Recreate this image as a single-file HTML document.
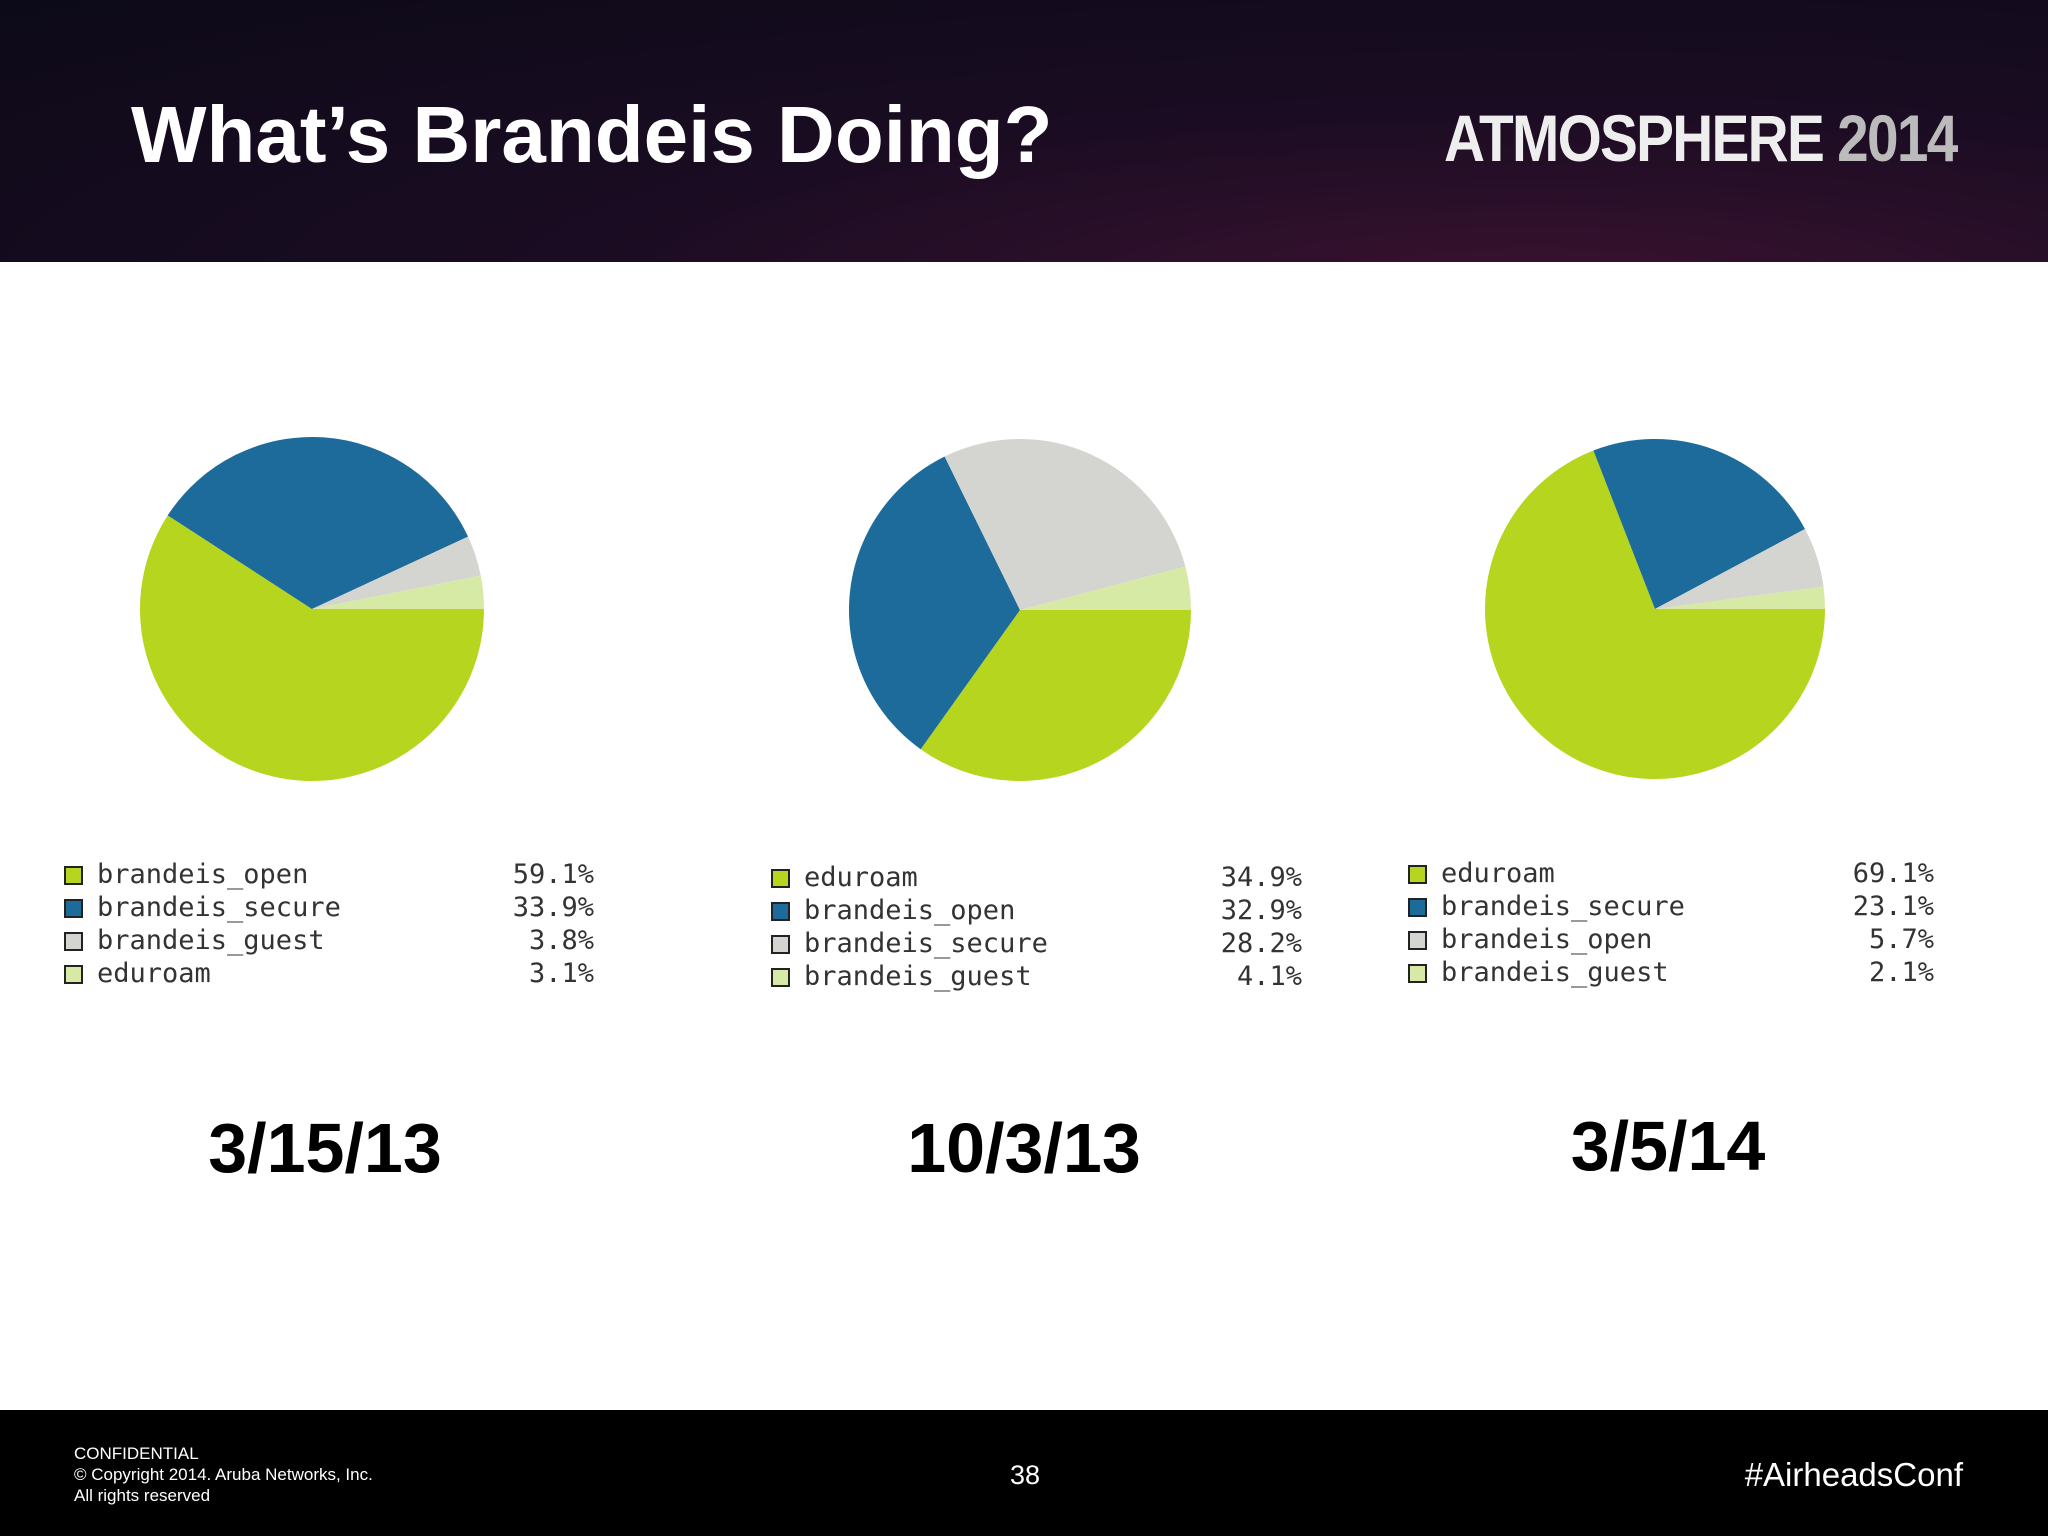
<!DOCTYPE html>
<html><head><meta charset="utf-8"><style>
body{margin:0;width:2048px;height:1536px;position:relative;background:#fff;overflow:hidden;font-family:"Liberation Sans",sans-serif}
#hdr{position:absolute;left:0;top:0;width:2048px;height:262px;background:radial-gradient(ellipse at 75% 110%,#3a1230 0%,#1a0c22 45%,#0c0a18 100%)}
#title{position:absolute;left:131px;top:89px;font-size:80px;font-weight:bold;color:#fff}
#brand{position:absolute;left:1444px;top:100px;font-size:66px;font-weight:bold;color:#eee;letter-spacing:-2px;transform:scaleX(0.86);transform-origin:left}
#brand span{color:#bbb}
#ftr{position:absolute;left:0;top:1410px;width:2048px;height:126px;background:#000;color:#fff}
.date{position:absolute;font-size:70px;font-weight:bold;color:#000;transform:translateX(-50%)}
</style></head><body>
<div id="hdr"></div>
<div id="title">What’s Brandeis Doing?</div>
<div id="brand">ATMOSPHERE <span>2014</span></div>
<svg id="chart" width="2048" height="1536" style="position:absolute;left:0;top:0"></svg>
<div class="date" style="left:325px;top:1108px">3/15/13</div>
<div class="date" style="left:1024px;top:1108px">10/3/13</div>
<div class="date" style="left:1668px;top:1106px">3/5/14</div>
<div id="ftr">
<div style="position:absolute;left:74px;top:33px;font-size:17px;line-height:21px">CONFIDENTIAL<br>© Copyright 2014. Aruba Networks, Inc.<br>All rights reserved</div>
<div style="position:absolute;left:1010px;top:50px;font-size:27px">38</div>
<div style="position:absolute;right:85px;top:46px;font-size:33px">#AirheadsConf</div>
</div>
<script>
const labels1=["brandeis_open","brandeis_secure","brandeis_guest","eduroam"];
const values1=[59.1,33.9,3.8,3.1];
const labels2=["eduroam","brandeis_open","brandeis_secure","brandeis_guest"];
const values2=[34.9,32.9,28.2,4.1];
const labels3=["eduroam","brandeis_secure","brandeis_open","brandeis_guest"];
const values3=[69.1,23.1,5.7,2.1];
const colors=["#b5d51e","#1c6b9b","#d4d4d0","#d6eaa6"];
const svg=document.getElementById('chart');
const NS="http://www.w3.org/2000/svg";
function pie(vals,labs,cx,cy,r,lx,ly,pr,gap,idx){
  const tot=vals.reduce((a,b)=>a+b,0);let a=0;
  vals.forEach((v,i)=>{
    const a2=a+v/tot*2*Math.PI;
    const p=document.createElementNS(NS,'path');
    const x1=cx+r*Math.cos(a),y1=cy+r*Math.sin(a),x2=cx+r*Math.cos(a2),y2=cy+r*Math.sin(a2);
    p.setAttribute('d',`M${cx},${cy}L${x1},${y1}A${r},${r} 0 ${a2-a>Math.PI?1:0} 1 ${x2},${y2}Z`);
    p.setAttribute('fill',colors[i]);
    
    
    svg.appendChild(p);a=a2;
    const y=ly+i*gap;
    const sq=document.createElementNS(NS,'rect');
    sq.setAttribute('x',lx);sq.setAttribute('y',y-16);sq.setAttribute('width',17);sq.setAttribute('height',17);
    sq.setAttribute('fill',colors[i]);sq.setAttribute('stroke','#222');sq.setAttribute('stroke-width',2);
    
    
    svg.appendChild(sq);
    const t=document.createElementNS(NS,'text');
    t.setAttribute('x',lx+32);t.setAttribute('y',y);t.setAttribute('font-size',27);
    t.setAttribute('font-family','"DejaVu Sans Mono",monospace');t.setAttribute('fill','#333');
    t.textContent=labs[i];
    
    
    svg.appendChild(t);
    const q=document.createElementNS(NS,'text');
    q.setAttribute('x',pr);q.setAttribute('y',y);q.setAttribute('font-size',27);q.setAttribute('text-anchor','end');
    q.setAttribute('font-family','"DejaVu Sans Mono",monospace');q.setAttribute('fill','#333');
    q.textContent=v.toFixed(1)+'%';
    
    
    svg.appendChild(q);
  });
}
pie(values1,labels1,312,609,172,65,883,594,33,1);
pie(values2,labels2,1020,610,171,772,886,1302,33,2);
pie(values3,labels3,1655,609,170,1409,882,1934,33,3);
</script>
</body></html>
